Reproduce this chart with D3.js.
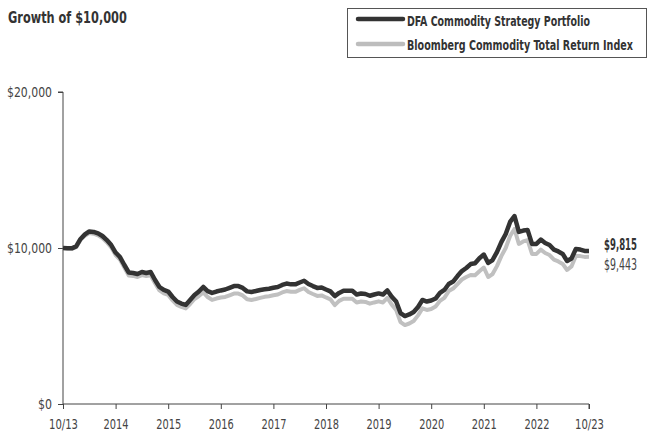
<!DOCTYPE html>
<html>
<head>
<meta charset="utf-8">
<script src="https://cdn.jsdelivr.net/npm/d3@7"></script>
<style>
  html, body { margin: 0; padding: 0; background: #fff; }
  svg { display: block; }
  text { font-family: "DejaVu Sans", "Liberation Sans", sans-serif; font-stretch: condensed; }
</style>
</head>
<body>
<svg id="chart" width="649" height="442"></svg>
<script>
const title = "Growth of $10,000";
const seriesNames = ["DFA Commodity Strategy Portfolio", "Bloomberg Commodity Total Return Index"];
const xTickLabels = ["10/13", "2014", "2015", "2016", "2017", "2018", "2019", "2020", "2021", "2022", "10/23"];
const yTicks = [0, 10000, 20000];
const endLabels = ["$9,815", "$9,443"];

// Monthly values, Oct 2013 .. Oct 2023 (121 points)
const dfa = [
  10000, 9980, 9980, 10100, 10580, 10870, 11060, 11030, 10940, 10770, 10510, 10190,
  9710, 9420, 8910, 8430, 8400, 8330, 8460, 8400, 8460, 7950, 7500, 7310,
  7210, 6860, 6570, 6440, 6350, 6670, 6990, 7210, 7500, 7240, 7120, 7210,
  7280, 7340, 7450, 7560, 7560, 7440, 7220, 7180, 7240, 7310, 7350, 7390,
  7450, 7500, 7630, 7720, 7670, 7670, 7790, 7900, 7690, 7560, 7440, 7470,
  7340, 7220, 6920, 7120, 7260, 7260, 7260, 7020, 7080, 7050, 6940, 7020,
  7090, 7020, 7280, 6880, 6570, 5830, 5640, 5740, 5900, 6220, 6670, 6570,
  6630, 6760, 7120, 7310, 7690, 7850, 8200, 8520, 8720, 8970, 9020, 9340,
  9580, 9040, 9230, 9740, 10380, 10900, 11670, 12050, 11030, 11120, 11150, 10260,
  10260, 10540, 10320, 10190, 9900, 9780, 9620, 9170, 9330, 9940, 9900, 9810,
  9815
];
const bcom = [
  10000, 9960, 9950, 10050, 10520, 10790, 10960, 10920, 10810, 10640, 10370, 10040,
  9550, 9260, 8740, 8240, 8210, 8140, 8260, 8200, 8250, 7740, 7280, 7090,
  6990, 6640, 6350, 6220, 6130, 6410, 6730, 6920, 7150, 6860, 6670, 6760,
  6830, 6860, 6970, 7080, 7080, 6960, 6710, 6670, 6730, 6800, 6870, 6910,
  6970, 7020, 7150, 7240, 7190, 7190, 7310, 7420, 7180, 7050, 6930, 6960,
  6830, 6710, 6340, 6610, 6750, 6750, 6750, 6510, 6570, 6540, 6430, 6510,
  6580, 6510, 6800, 6370, 6030, 5250, 5060, 5160, 5320, 5680, 6130, 6030,
  6090, 6250, 6610, 6800, 7240, 7400, 7690, 7980, 8140, 8270, 8250, 8510,
  8750, 8140, 8330, 8840, 9480, 10000, 10770, 11220, 10260, 10420, 10510, 9620,
  9620, 9900, 9680, 9550, 9260, 9140, 8980, 8590, 8820, 9490, 9480, 9430,
  9443
];

const svg = d3.select("#chart");
const mLeft = 63, mRight = 589, mTop = 92, mBottom = 404;

const x = d3.scaleLinear().domain([0, 120]).range([mLeft, mRight]);
const y = d3.scaleLinear().domain([0, 20000]).range([mBottom, mTop]);

// squeeze a text horizontally (about its anchor point) to a target width
function fit(sel, w) {
  const node = sel.node();
  const nat = node.getComputedTextLength();
  if (nat > 0) {
    const ax = +(sel.attr("x") || 0), ay = +(sel.attr("y") || 0);
    const s = w / nat;
    sel.attr("transform", `translate(${ax},${ay}) scale(${s},1) translate(${-ax},${-ay})`);
  }
  return sel;
}

// Title
fit(svg.append("text").attr("x", 8).attr("y", 23)
  .attr("font-size", 16).attr("font-weight", "bold").attr("fill", "#333")
  .text(title), 119);

// Legend
const lg = svg.append("g");
lg.append("rect").attr("x", 347.5).attr("y", 8.5).attr("width", 299).attr("height", 49)
  .attr("fill", "#fff").attr("stroke", "#555").attr("stroke-width", 1);
const legendColors = ["#333", "#bdbdbd"];
const legendY = [19, 44];
const legendW = [183, 226];
seriesNames.forEach((n, i) => {
  lg.append("line").attr("x1", 358).attr("x2", 403).attr("y1", legendY[i]).attr("y2", legendY[i])
    .attr("stroke", legendColors[i]).attr("stroke-width", 4.5).attr("stroke-linecap", "round");
  fit(lg.append("text").attr("x", 407).attr("y", legendY[i] + (i === 0 ? 1.5 : 0.5)).attr("dy", "0.36em")
    .attr("font-size", 14.5).attr("font-weight", "bold").attr("fill", "#333").text(n), legendW[i]);
});

// Axes
const yAxis = d3.axisLeft(y).tickValues(yTicks).tickSize(5).tickPadding(6)
  .tickFormat(d => "$" + d3.format(",")(d));
const gy = svg.append("g").attr("transform", `translate(${mLeft},0)`).call(yAxis);
gy.attr("font-family", null);
gy.select(".domain").attr("stroke", "#444").attr("d", `M-5,${mTop}H0V${mBottom}`);
gy.selectAll(".tick line").attr("stroke", "#444");
gy.selectAll(".tick text").attr("font-size", 14).attr("fill", "#444")
  .each(function(d) { fit(d3.select(this), d === 0 ? 14 : 45); });

const xAxis = d3.axisBottom(x).tickValues(d3.range(0, 121, 12)).tickSize(5).tickPadding(10)
  .tickFormat((d, i) => xTickLabels[i]);
const gx = svg.append("g").attr("transform", `translate(0,${mBottom})`).call(xAxis);
gx.attr("font-family", null);
gx.select(".domain").attr("stroke", "#444").attr("d", `M${mLeft},0H${mRight}V5`);
gx.selectAll(".tick line").attr("stroke", "#444");
gx.selectAll(".tick text").attr("font-size", 14).attr("fill", "#444")
  .each(function(d, i) { fit(d3.select(this), xTickLabels[i].length > 4 ? 29 : 25); });

// Lines
const line = d3.line().x((d, i) => x(i)).y(d => y(d)).curve(d3.curveLinear);
svg.append("path").datum(bcom).attr("d", line).attr("fill", "none")
  .attr("stroke", "#c0c0c0").attr("stroke-width", 4).attr("stroke-linejoin", "round");
svg.append("path").datum(dfa).attr("d", line).attr("fill", "none")
  .attr("stroke", "#333").attr("stroke-width", 4.5).attr("stroke-linejoin", "round");

// End labels
fit(svg.append("text").attr("x", 604).attr("y", y(dfa[120]) - 6).attr("dy", "0.36em")
  .attr("font-size", 15).attr("font-weight", "bold").attr("fill", "#333").text(endLabels[0]), 33);
fit(svg.append("text").attr("x", 604).attr("y", y(bcom[120]) + 8).attr("dy", "0.36em")
  .attr("font-size", 15).attr("fill", "#444").text(endLabels[1]), 33);
</script>
</body>
</html>
